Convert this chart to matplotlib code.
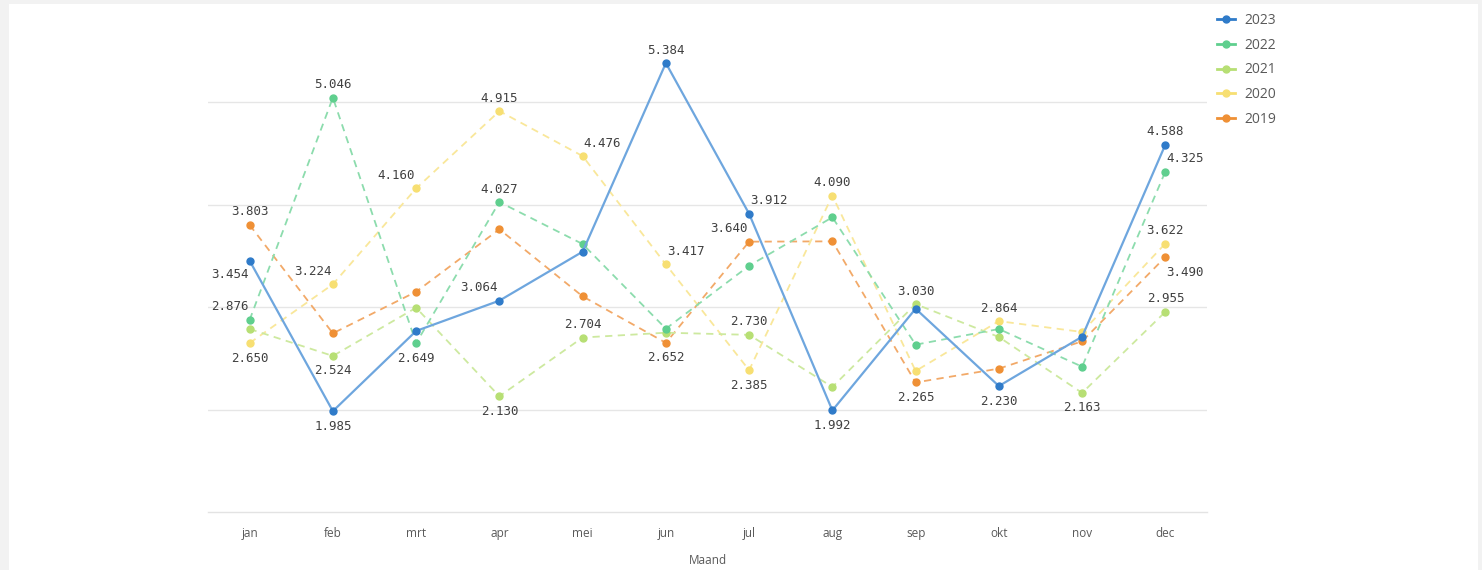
import matplotlib
matplotlib.use("Agg")
import matplotlib.pyplot as plt
from matplotlib.patches import Rectangle
from matplotlib.lines import Line2D

# ---------------- data ----------------
months = ["jan", "feb", "mrt", "apr", "mei", "jun", "jul", "aug", "sep", "okt", "nov", "dec"]
years = ["2023", "2022", "2021", "2020", "2019"]

v2023 = [3.454, 1.985, 2.768, 3.064, 3.542, 5.384, 3.912, 1.992, 2.985, 2.230, 2.712, 4.588]
v2022 = [2.876, 5.046, 2.649, 4.027, 3.617, 2.790, 3.405, 3.878, 2.634, 2.787, 2.419, 4.325]
v2021 = [2.787, 2.524, 2.995, 2.130, 2.704, 2.751, 2.730, 2.221, 3.030, 2.709, 2.163, 2.955]
v2020 = [2.650, 3.224, 4.160, 4.915, 4.476, 3.417, 2.385, 4.090, 2.377, 2.864, 2.758, 3.622]
v2019 = [3.803, 2.745, 3.151, 3.761, 3.106, 2.652, 3.640, 3.643, 2.265, 2.400, 2.667, 3.490]

series = {"2023": v2023, "2022": v2022, "2021": v2021, "2020": v2020, "2019": v2019}

# labelled points: (year, month index, placement)
labels = [
    ("2019", 0, "a"), ("2023", 0, "lb"), ("2022", 0, "la"), ("2020", 0, "b"),
    ("2022", 1, "a"), ("2020", 1, "la"), ("2021", 1, "b"), ("2023", 1, "b"),
    ("2020", 2, "la"), ("2022", 2, "b"),
    ("2020", 3, "a"), ("2022", 3, "a"), ("2023", 3, "la"), ("2021", 3, "b"),
    ("2020", 4, "ra"), ("2021", 4, "a"),
    ("2023", 5, "a"), ("2020", 5, "ra"), ("2019", 5, "b"),
    ("2023", 6, "ra"), ("2019", 6, "la"), ("2021", 6, "a"), ("2020", 6, "b"),
    ("2020", 7, "a"), ("2023", 7, "b"),
    ("2021", 8, "a"), ("2019", 8, "b"),
    ("2020", 9, "a"), ("2023", 9, "b"),
    ("2021", 10, "b"),
    ("2023", 11, "a"), ("2022", 11, "ra"), ("2020", 11, "a"), ("2019", 11, "rb"), ("2021", 11, "a"),
]

# ---------------- style ----------------
colors = {"2023": "#2f7bc9", "2022": "#5fcf8e", "2021": "#b7df74",
          "2020": "#f7df72", "2019": "#ef9035"}
line_colors = {"2023": "#6ea6de", "2022": "#8cdcad", "2021": "#cde99f",
               "2020": "#f9e79a", "2019": "#f2a968"}
offsets = {"a": (0, 13), "b": (0, -15), "la": (-20, 13), "lb": (-20, -14),
           "ra": (20, 13), "rb": (20, -15)}

W, H = 1482, 570
fig = plt.figure(figsize=(W / 100, H / 100), dpi=100, facecolor="#f2f2f2")
fig.patches.append(Rectangle((9 / W, 0), (1478 - 9) / W, (570 - 4) / H,
                             transform=fig.transFigure, facecolor="white",
                             edgecolor="none", zorder=-10))

ax = fig.add_axes([208 / W, (H - 512) / H, 999 / W, 512 / H])
ax.set_facecolor("none")
x = list(range(len(months)))

order = ["2019", "2020", "2021", "2022", "2023"]
for z, y in enumerate(order):
    vals = series[y]
    ls = "-" if y == "2023" else (0, (4, 3))
    lw = 1.6 if y == "2023" else 1.3
    ax.plot(x, vals, color=line_colors[y], lw=lw, linestyle=ls, zorder=3 + z)
    ax.plot(x, vals, linestyle="none", marker="o", markersize=5,
            color=colors[y], zorder=3 + z)

for y, i, pos in labels:
    v = series[y][i]
    dx, dy = offsets[pos]
    ax.annotate(f"{v:.3f}", (i, v), xytext=(dx, dy), textcoords="offset pixels",
                ha="center", va="center", fontsize=9, color="#404040",
                family="DejaVu Sans Mono", zorder=20)

ax.set_xlim(-0.5, 11.5)
ax.set_ylim(1, 6)
ax.set_yticks([2, 3, 4, 5])
ax.yaxis.grid(True, color="#e6e6e6", lw=1.0)
ax.axhline(1, color="#e3e3e3", lw=1.0, clip_on=False, zorder=1)
ax.set_axisbelow(True)
ax.tick_params(axis="y", left=False, labelleft=False)
ax.set_xticks(x)
ax.set_xticklabels(months, fontsize=8.5, color="#595959", family="Open Sans")
ax.tick_params(axis="x", length=0, pad=10.5)
for s in ax.spines.values():
    s.set_visible(False)

fig.text(707.5 / W, 1 - 560 / H, "Maand", ha="center", va="center",
         fontsize=8.5, color="#595959", family="Open Sans")

handles = [Line2D([0], [0], color=colors[y], lw=2, marker="o", markersize=5)
           for y in years]
fig.legend(handles, years, loc="upper left",
           bbox_to_anchor=(1217 / W, 1 - 13 / H), frameon=False,
           handlelength=1.3, handletextpad=0.65, labelspacing=0.7,
           prop={"family": "Open Sans", "size": 10}, labelcolor="#595959",
           borderaxespad=0, borderpad=0)

fig.savefig("out.png", dpi=100, facecolor=fig.get_facecolor())
